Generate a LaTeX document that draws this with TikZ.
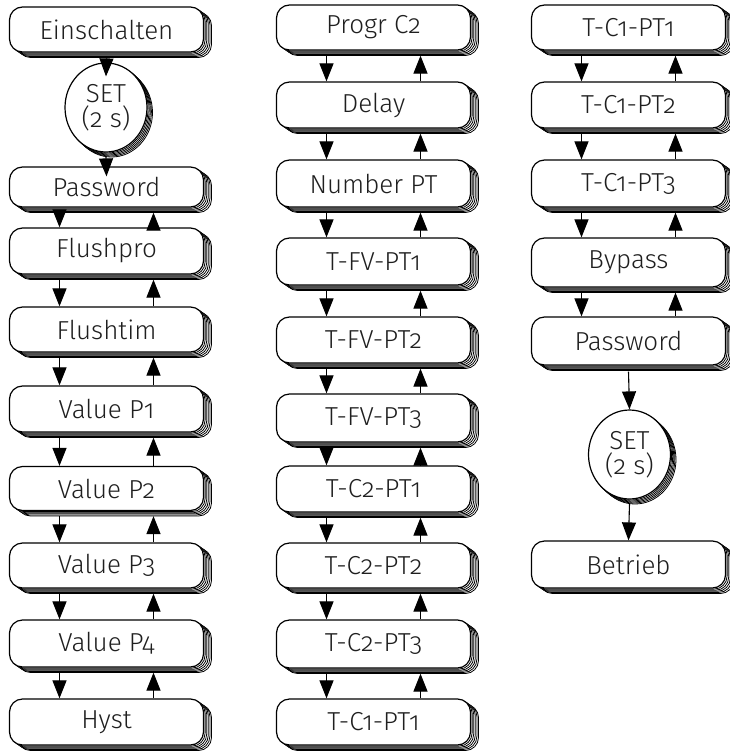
\documentclass[tikz,border=0pt]{standalone}
\usepackage{fontspec}
\setmainfont{Fira Sans Light}[Numbers=OldStyle]
\usetikzlibrary{shapes.geometric,shadows,arrows.meta,calc}

\tikzset{
  layer/.style={general shadow={shadow xshift=#1*1.6pt,shadow yshift=-#1*1.1pt,
      fill=white,draw=black,line width=0.8pt}},
  layered/.style={layer=5,layer=4,layer=3,layer=2,layer=1},
  roundlayer/.style={general shadow={shadow xshift=#1*1.1pt,shadow yshift=-#1*1.0pt,
      fill=white,draw=black,line width=0.8pt}},
  roundlayered/.style={roundlayer=5,roundlayer=4,roundlayer=3,roundlayer=2,roundlayer=1},
  stepbox/.style={layered,draw=black,fill=white,line width=1.2pt,rounded corners=13pt,
      minimum width=194pt,minimum height=#1,inner sep=0pt,text=black!88,
      font=\fontsize{26}{28}\selectfont},
  stepbox/.default=46pt,
  setnode/.style={roundlayered,ellipse,draw=black,fill=white,line width=1.2pt,
      minimum width=82pt,minimum height=89pt,inner sep=0pt,align=center,text=black!88,
      font=\fontsize{26}{25}\selectfont},
  arr/.style={line width=1.1pt,-{Triangle[width=14pt,length=18pt]}},
}

\begin{document}
\begin{tikzpicture}[x=1pt,y=-1pt]
\useasboundingbox (0,0) rectangle (729,753);

% left column
\node[stepbox=45pt] (e1) at (106.5,29.5) {Einschalten};
\node[setnode] (set1) at (106,107.5) {SET\\(2 s)};
\node[stepbox=40pt] (pw1) at (106.5,187) {Password};
\node[stepbox] (fp) at (106.5,251) {Flushpro};
\node[stepbox=45pt] (ft) at (106.5,329.5) {Flushtim};
\node[stepbox] (v1) at (106.5,409) {Value P1};
\node[stepbox=44pt] (v2) at (106.5,488.5) {Value P2};
\node[stepbox=45pt] (v3) at (106.5,565.5) {Value P3};
\node[stepbox=47pt] (v4) at (106.5,643.5) {Value P4};
\node[stepbox] (hy) at (106.5,722) {Hyst};

% middle column
\node[stepbox=45pt] (pc) at (373.5,27.5) {Progr C2};
\node[stepbox] (dl) at (373.5,105) {Delay};
\node[stepbox=47pt] (np) at (373.5,183.5) {Number PT};
\node[stepbox=47pt] (fv1) at (373.5,261.5) {T-FV-PT1};
\node[stepbox] (fv2) at (373.5,340) {T-FV-PT2};
\node[stepbox=48pt] (fv3) at (373.5,418) {T-FV-PT3};
\node[stepbox] (c21) at (373.5,489) {T-C2-PT1};
\node[stepbox=45pt] (c22) at (373.5,565.5) {T-C2-PT2};
\node[stepbox=48pt] (c23) at (373.5,644) {T-C2-PT3};
\node[stepbox] (c11) at (373.5,722) {T-C1-PT1};

% right column
\node[stepbox=45pt] (t1) at (628.5,27.5) {T-C1-PT1};
\node[stepbox] (t2) at (628.5,105) {T-C1-PT2};
\node[stepbox=47pt] (t3) at (628.5,183.5) {T-C1-PT3};
\node[stepbox=49pt] (bp) at (628.5,262.5) {Bypass};
\node[stepbox=48pt] (pw3) at (628.5,341) {Password};
\node[setnode] (set3) at (629.5,454.5) {SET\\(2 s)};
\node[stepbox=47pt] (bt) at (628.5,564.5) {Betrieb};

% single transitions
\draw[arr] ($(e1.south)+(0,5)$) -- ($(set1.north)+(0,14)$);
\draw[arr] ($(set1.south)+(0,4)$) -- ($(pw1.north)+(0,10)$);
\draw[arr] ($(pw3.south)+(0,6)$) -- (set3.north);
\draw[arr] ($(set3.south)+(0,4)$) -- (bt.north);

% paired down/up transitions
\foreach \a/\b in {pw1/fp,fp/ft,ft/v1,v1/v2,v2/v3,v3/v4,v4/hy,
                   pc/dl,dl/np,np/fv1,fv1/fv2,fv2/fv3,fv3/c21,c21/c22,c22/c23,c23/c11,
                   t1/t2,t2/t3,t3/bp,bp/pw3}{
  \draw[arr] ($(\a.south)+(-47,5)$) -- ($(\b.north)+(-47,0)$);
  \draw[arr] ($(\b.north)+(47,0)$) -- ($(\a.south)+(47,5)$);
}
\end{tikzpicture}
\end{document}
